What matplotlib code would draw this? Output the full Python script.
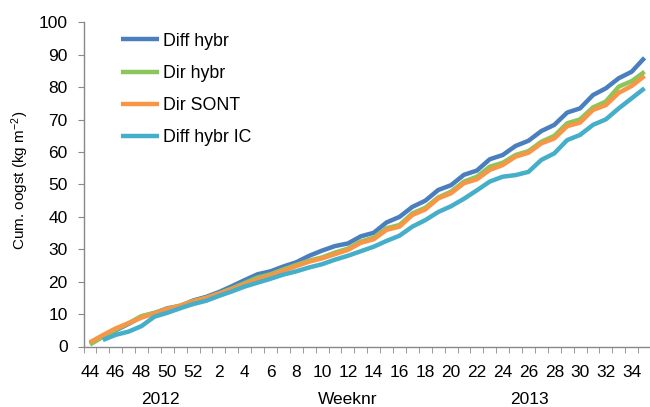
import matplotlib
matplotlib.use('Agg')
import matplotlib.pyplot as plt
import numpy as np

plt.rcParams['font.family'] = ['Liberation Sans', 'DejaVu Sans']
plt.rcParams['mathtext.fontset'] = 'custom'
plt.rcParams['mathtext.rm'] = 'Liberation Sans'
plt.rcParams['mathtext.it'] = 'Liberation Sans:italic'

# week numbers: 2012 wk 44-52, 2013 wk 1-35
weeks = list(range(44, 53)) + list(range(1, 36))

diff_hybr = [1.0, 3.0, 5.0, 7.0, 9.2, 10.3, 11.8, 12.5, 14.2, 15.3, 16.8, 18.6, 20.5, 22.3, 23.2, 24.7,
             26.0, 28.0, 29.6, 31.0, 31.8, 34.0, 35.1, 38.3, 40.0, 43.1, 45.0, 48.3, 49.8, 53.0, 54.3,
             57.8, 59.1, 61.9, 63.5, 66.5, 68.4, 72.2, 73.5, 77.6, 79.7, 82.8, 84.8, 89.1]
dir_hybr = [0.6, 3.0, 5.2, 7.2, 9.4, 10.4, 11.6, 12.6, 14.0, 15.0, 16.4, 17.9, 19.6, 21.3, 22.3, 23.8,
            25.2, 26.5, 27.5, 29.0, 30.2, 32.4, 33.6, 36.5, 37.5, 41.1, 42.8, 46.0, 47.8, 50.9, 52.4,
            55.5, 56.7, 59.1, 60.3, 63.2, 65.0, 68.9, 70.1, 73.8, 75.6, 80.2, 81.9, 84.8]
dir_sont = [1.3, 3.5, 5.6, 7.2, 8.9, 10.2, 11.6, 12.6, 13.9, 15.0, 16.3, 17.7, 19.2, 20.7, 21.9, 23.4,
            24.8, 26.2, 27.2, 28.5, 29.8, 32.0, 33.1, 36.0, 37.0, 40.6, 42.3, 45.7, 47.3, 50.4, 51.6,
            54.5, 56.0, 58.6, 59.8, 62.7, 64.2, 68.0, 69.1, 73.0, 74.5, 78.3, 80.4, 83.5]
# IC starts in week 45
diff_hybr_ic = [np.nan, 2.0, 3.6, 4.6, 6.3, 9.2, 10.4, 11.8, 13.1, 14.1, 15.6, 17.0, 18.5, 19.7, 20.9, 22.2,
                23.2, 24.4, 25.4, 26.8, 28.0, 29.4, 30.8, 32.6, 34.2, 37.0, 39.0, 41.5, 43.3, 45.6, 48.2,
                50.9, 52.4, 52.9, 53.9, 57.6, 59.6, 63.7, 65.3, 68.4, 70.1, 73.5, 76.6, 79.7]

series = [('Diff hybr', diff_hybr, '#4a7ebf'),
          ('Dir hybr', dir_hybr, '#8cc55a'),
          ('Dir SONT', dir_sont, '#f79646'),
          ('Diff hybr IC', diff_hybr_ic, '#45aec8')]

fig = plt.figure(figsize=(6.5, 4.07), dpi=100)
ax = fig.add_axes([83.5 / 650, 60.5 / 407, 567.5 / 650, 324 / 407])

x = np.arange(len(weeks))
for name, vals, col in series:
    ax.plot(x, vals, color=col, lw=3.2, label=name, solid_capstyle='butt')

ax.set_xlim(-0.5, len(weeks) - 0.5)
ax.set_ylim(0, 100)
ax.set_yticks(range(0, 101, 10))

ax.set_xticks(x[::2])
ax.set_xticklabels([str(w) for w in weeks[::2]])
ax.set_xticks(np.arange(len(weeks) + 1) - 0.5, minor=True)

grey = '#888888'
for s in ['top', 'right']:
    ax.spines[s].set_visible(False)
for s in ['left', 'bottom']:
    ax.spines[s].set_color(grey)
    ax.spines[s].set_linewidth(1.0)

ax.tick_params(axis='y', direction='out', length=4.5, color=grey, labelsize=12.5, pad=7)
ax.tick_params(axis='x', which='major', length=0, labelsize=12.5, pad=13)
ax.tick_params(axis='x', which='minor', direction='out', length=4.5, color=grey)

fig.text(20 / 650, 1 - 180 / 407, 'Cum. oogst (kg m$^{-2}$)', rotation=90,
         ha='center', va='center', fontsize=11)
fig.text(160 / 650, 1 - 399 / 407, '2012', ha='center', va='center', fontsize=12.5)
fig.text(348 / 650, 1 - 399 / 407, 'Weeknr', ha='center', va='center', fontsize=12.5)
fig.text(529 / 650, 1 - 399 / 407, '2013', ha='center', va='center', fontsize=12.5)

ax.legend(loc='upper left', bbox_to_anchor=(0.066, 0.969), frameon=False, fontsize=12.8,
          handlelength=2.15, handletextpad=0.2, labelspacing=0.86, borderpad=0, borderaxespad=0)

fig.savefig('out.png', dpi=100)
